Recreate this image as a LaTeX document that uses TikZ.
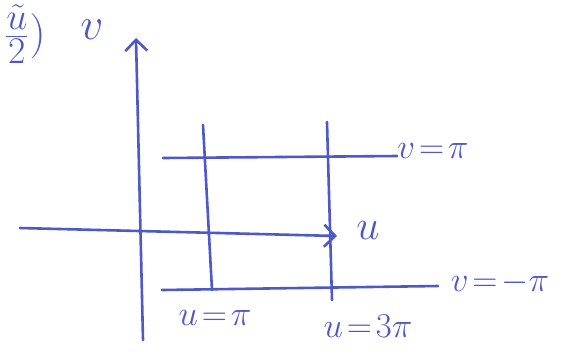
\documentclass[tikz,border=0pt]{standalone}
\usetikzlibrary{arrows.meta}
\definecolor{pen}{RGB}{78,88,200}
\begin{document}
\begin{tikzpicture}[x=1pt,y=-1pt,
  penline/.style={draw=pen,line width=2.6pt,line cap=round},
  lbl/.style={text=pen,font=\Huge,scale=1.4,inner sep=0pt}]
\useasboundingbox[fill=white] (0,0) rectangle (572,360);
% fragment at top left
\node[lbl,anchor=east,scale=1.3] (frag) at (46,34) {$\frac{\tilde u}{2}\Big)$};
% axes
\coordinate (vb) at (143,340);
\coordinate (vt) at (136,38);
\draw[penline,-{Straight Barb[length=11pt,width=22pt]}] (vb) -- (vt);
\node[lbl,scale=1.3] (vlab) at (92,30) {$v$};
\coordinate (ul) at (20,228);
\coordinate (ur) at (337,236);
\draw[penline,-{Straight Barb[length=11pt,width=22pt]}] (ul) -- (ur);
\node[lbl,scale=1.2] (ulab) at (368,230) {$u$};
% v = pi line
\coordinate (a1) at (163,158);
\coordinate (a2) at (397,156);
\draw[penline] (a1) -- (a2);
\node[lbl] (vpi) at (433,151) {$v\!=\!\pi$};
% v = -pi line
\coordinate (b1) at (162,290);
\coordinate (b2) at (438,286);
\draw[penline] (b1) -- (b2);
\node[lbl] (vmpi) at (500,283) {$v\!=\!-\pi$};
% u = pi line
\coordinate (c1) at (203,125);
\coordinate (c2) at (212,290);
\draw[penline] (c1) -- (c2);
\node[lbl] (upi) at (215,318) {$u\!=\!\pi$};
% u = 3pi line
\coordinate (d1) at (327,122);
\coordinate (d2) at (332,300);
\draw[penline] (d1) -- (d2);
\node[lbl] (u3pi) at (368,326) {$u\!=\!3\pi$};
\end{tikzpicture}
\end{document}
